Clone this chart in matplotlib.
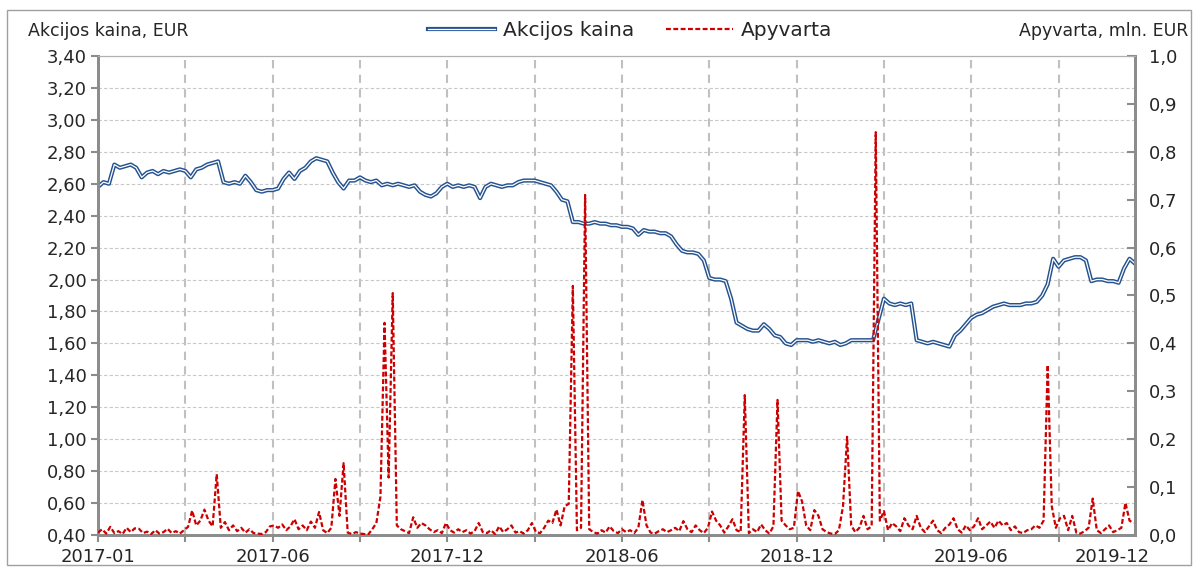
import matplotlib
matplotlib.use("Agg")
import matplotlib.pyplot as plt
import numpy as np
from matplotlib.ticker import FuncFormatter, MultipleLocator
from matplotlib.legend_handler import HandlerTuple
from matplotlib.patches import Rectangle

# ---------------- data ----------------
# trading-day index axis: price sampled every 4 trading days, turnover every 3
price_step = 4
price = [
    2.58, 2.61, 2.60, 2.72, 2.70, 2.71, 2.72, 2.70, 2.64, 2.67,
    2.68, 2.66, 2.68, 2.67, 2.68, 2.69, 2.68, 2.64, 2.69, 2.70,
    2.72, 2.73, 2.74, 2.61, 2.60, 2.61, 2.60, 2.65, 2.61, 2.56,
    2.55, 2.56, 2.56, 2.57, 2.63, 2.67, 2.63, 2.68, 2.70, 2.74,
    2.76, 2.75, 2.74, 2.67, 2.61, 2.57, 2.62, 2.62, 2.64, 2.62,
    2.61, 2.62, 2.59, 2.60, 2.59, 2.60, 2.59, 2.58, 2.59, 2.55,
    2.53, 2.52, 2.54, 2.58, 2.60, 2.58, 2.59, 2.58, 2.59, 2.58,
    2.51, 2.58, 2.60, 2.59, 2.58, 2.59, 2.59, 2.61, 2.62, 2.62,
    2.62, 2.61, 2.60, 2.59, 2.55, 2.50, 2.49, 2.36, 2.36, 2.35,
    2.35, 2.36, 2.35, 2.35, 2.34, 2.34, 2.33, 2.33, 2.32, 2.28,
    2.31, 2.30, 2.30, 2.29, 2.29, 2.27, 2.22, 2.18, 2.17, 2.17,
    2.16, 2.12, 2.01, 2.00, 2.00, 1.99, 1.88, 1.73, 1.71, 1.69,
    1.68, 1.68, 1.72, 1.69, 1.65, 1.64, 1.60, 1.59, 1.62, 1.62,
    1.62, 1.61, 1.62, 1.61, 1.60, 1.61, 1.59, 1.60, 1.62, 1.62,
    1.62, 1.62, 1.62, 1.75, 1.88, 1.85, 1.84, 1.85, 1.84, 1.85,
    1.62, 1.61, 1.60, 1.61, 1.60, 1.59, 1.58, 1.65, 1.68, 1.72,
    1.76, 1.78, 1.79, 1.81, 1.83, 1.84, 1.85, 1.84, 1.84, 1.84,
    1.85, 1.85, 1.86, 1.90, 1.97, 2.13, 2.08, 2.12, 2.13, 2.14,
    2.14, 2.12, 1.99, 2.00, 2.00, 1.99, 1.99, 1.98, 2.07, 2.13,
    2.10,
]

turnover_step = 3
turnover = [
    0.005, 0.012, 0.003, 0.017, 0.004, 0.008, 0.002, 0.015, 0.006, 0.014,
    0.013, 0.004, 0.007, 0.002, 0.010, 0.003, 0.006, 0.013, 0.004, 0.008,
    0.003, 0.010, 0.017, 0.051, 0.020, 0.030, 0.053, 0.030, 0.018, 0.127,
    0.015, 0.027, 0.010, 0.020, 0.008, 0.015, 0.005, 0.012, 0.004, 0.003,
    0.002, 0.006, 0.018, 0.020, 0.015, 0.022, 0.010, 0.018, 0.033, 0.012,
    0.020, 0.010, 0.028, 0.015, 0.048, 0.010, 0.004, 0.015, 0.117, 0.040,
    0.150, 0.005, 0.002, 0.006, 0.003, 0.002, 0.001, 0.012, 0.025, 0.080,
    0.443, 0.120, 0.505, 0.020, 0.012, 0.008, 0.004, 0.037, 0.015, 0.025,
    0.020, 0.012, 0.006, 0.010, 0.004, 0.025, 0.010, 0.005, 0.012, 0.006,
    0.010, 0.003, 0.008, 0.025, 0.006, 0.004, 0.010, 0.002, 0.018, 0.006,
    0.012, 0.020, 0.005, 0.008, 0.003, 0.010, 0.025, 0.006, 0.004, 0.015,
    0.030, 0.025, 0.053, 0.020, 0.060, 0.065, 0.520, 0.010, 0.015, 0.710,
    0.012, 0.006, 0.003, 0.010, 0.005, 0.018, 0.008, 0.004, 0.012, 0.006,
    0.010, 0.004, 0.015, 0.073, 0.020, 0.005, 0.003, 0.008, 0.012, 0.006,
    0.010, 0.015, 0.008, 0.029, 0.012, 0.006, 0.020, 0.010, 0.004, 0.015,
    0.049, 0.030, 0.020, 0.005, 0.018, 0.033, 0.010, 0.006, 0.292, 0.004,
    0.012, 0.006, 0.022, 0.010, 0.003, 0.018, 0.282, 0.030, 0.020, 0.012,
    0.015, 0.092, 0.070, 0.020, 0.010, 0.052, 0.040, 0.012, 0.006, 0.003,
    0.002, 0.010, 0.060, 0.205, 0.020, 0.006, 0.015, 0.040, 0.012, 0.018,
    0.841, 0.030, 0.050, 0.010, 0.025, 0.018, 0.008, 0.035, 0.020, 0.012,
    0.040, 0.015, 0.006, 0.018, 0.030, 0.010, 0.004, 0.015, 0.022, 0.035,
    0.012, 0.005, 0.020, 0.010, 0.018, 0.035, 0.012, 0.020, 0.028, 0.015,
    0.030, 0.020, 0.025, 0.010, 0.018, 0.006, 0.004, 0.010, 0.012, 0.020,
    0.015, 0.030, 0.355, 0.060, 0.015, 0.035, 0.040, 0.010, 0.040, 0.005,
    0.003, 0.008, 0.015, 0.076, 0.010, 0.004, 0.012, 0.020, 0.006, 0.010,
    0.015, 0.067, 0.030, 0.025,
]

n_days = 760
tick_every = 64
label_days = [0, 128, 256, 384, 512, 640, 743]
label_texts = ["2017-01", "2017-06", "2017-12", "2018-06", "2018-12", "2019-06", "2019-12"]

# ---------------- figure ----------------
W, H = 1194, 570
fig = plt.figure(figsize=(W / 100, H / 100), dpi=100)
fig.patch.set_facecolor("white")
fig.patches.append(Rectangle((7 / W, 5 / H), (1191 - 7) / W, (560 - 5) / H,
                             transform=fig.transFigure, fill=False,
                             edgecolor="#A0A0A0", lw=1.0))

ax = fig.add_axes([98 / W, 1 - 535 / H, (1135 - 98) / W, (535 - 56) / H])
ax2 = ax.twinx()

txt = "#262626"
axc = "#8C8C8C"
fs = 13

x_price = np.arange(len(price)) * price_step
x_turn = np.arange(len(turnover)) * turnover_step

l_out, = ax.plot(x_price, price, color="#24528F", lw=3.0, zorder=3)
l_in, = ax.plot(x_price, price, color="white", lw=0.9, zorder=4)

l_red, = ax2.plot(x_turn, turnover, color="#CC0000", lw=1.6, ls=(0, (2.2, 1.1)), zorder=5)

# axes limits and ticks
ax.set_xlim(0, n_days)
ax.set_ylim(0.4, 3.4)
ax2.set_ylim(0, 1.0)

ax.yaxis.set_major_locator(MultipleLocator(0.2))
ax.yaxis.set_major_formatter(FuncFormatter(lambda v, p: f"{v:.2f}".replace(".", ",")))
ax2.yaxis.set_major_locator(MultipleLocator(0.1))
ax2.yaxis.set_major_formatter(FuncFormatter(lambda v, p: f"{v:.1f}".replace(".", ",")))

major_x = list(range(0, n_days, tick_every))
lab_map = dict(zip(label_days, label_texts))
ax.set_xticks(major_x)
ax.set_xticklabels([lab_map.get(d, "") for d in major_x])
extra = [d for d in label_days if d not in major_x]
ax.set_xticks(extra, minor=True)
ax.set_xticklabels([lab_map[d] for d in extra], minor=True)

ax.tick_params(axis="x", which="major", direction="out", length=5, width=1.5, color=axc,
               labelsize=fs, labelcolor=txt, pad=4)
ax.tick_params(axis="x", which="minor", length=0, labelsize=fs, labelcolor=txt, pad=9)
ax.tick_params(axis="y", direction="out", length=5, width=1.5, color=axc,
               labelsize=fs, labelcolor=txt, pad=3)
ax2.tick_params(axis="y", direction="in", length=6, width=1.5, color=axc,
                labelsize=fs, labelcolor=txt, pad=10)

# grid
ax.xaxis.grid(True, which="major", ls=(0, (4, 3)), lw=1.5, color="#C0C0C0", zorder=0)
ax.yaxis.grid(True, ls=(0, (3, 2)), lw=0.8, color="#C8C8C8", zorder=0)
ax.set_axisbelow(True)

for a in (ax, ax2):
    a.spines["top"].set_color("#B0B0B0")
    a.spines["top"].set_linewidth(0.8)
    for s in ("left", "bottom", "right"):
        a.spines[s].set_color(axc)
        a.spines[s].set_linewidth(2.0)

# axis titles
fig.text(28 / W, 1 - 31 / H, "Akcijos kaina, EUR", fontsize=12.5, color=txt,
         ha="left", va="center")
fig.text(1188 / W, 1 - 31 / H, "Apyvarta, mln. EUR", fontsize=12.5, color=txt,
         ha="right", va="center")

# legend
fig.legend([(l_out, l_in), l_red], ["Akcijos kaina", "Apyvarta"],
           handler_map={tuple: HandlerTuple(ndivide=1)},
           loc="center", bbox_to_anchor=(630 / W, 1 - 31 / H), ncol=2, frameon=False,
           fontsize=14.5, handlelength=3.3, handletextpad=0.4, columnspacing=1.6,
           labelcolor=txt)

fig.savefig("out.png", dpi=100, facecolor="white")
